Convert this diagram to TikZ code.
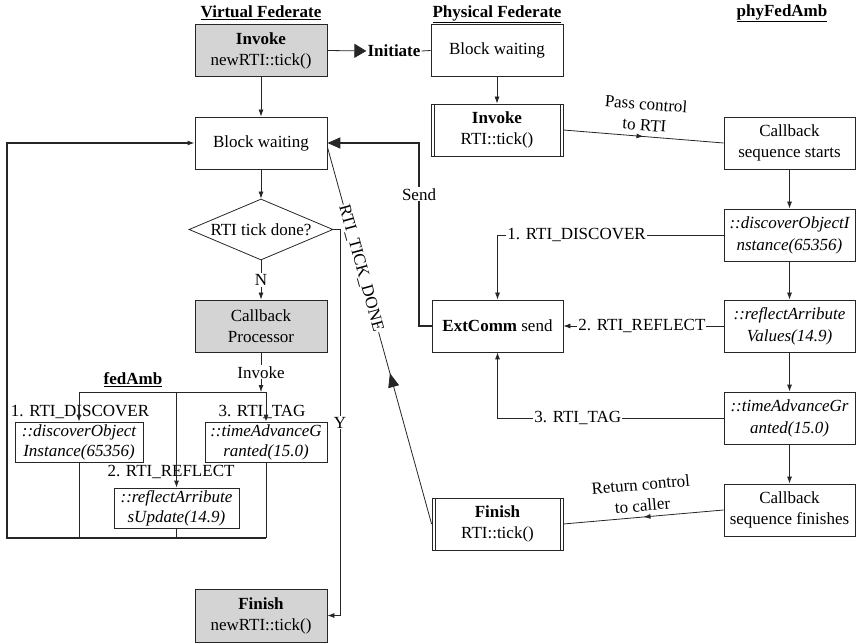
\documentclass[tikz,border=0pt]{standalone}
\usepackage{fontspec}
\setmainfont{Liberation Serif}
\usetikzlibrary{arrows.meta,shapes.geometric,decorations.markings,calc}
\begin{document}
\begin{tikzpicture}[x=1pt,y=-1pt,
  every node/.style={font=\fontsize{17}{21}\selectfont},
  box/.style={draw=black!85, line width=0.8pt, align=center, inner sep=1pt, minimum width=132pt, minimum height=52pt},
  grey/.style={box, fill=black!17},
  ibox/.style={box, minimum width=131pt, font=\fontsize{17}{22}\selectfont\itshape},
  fbox/.style={draw=black!85, line width=0.8pt, align=center, inner sep=0.5pt, minimum height=40pt, font=\fontsize{17}{20}\selectfont\itshape},
  lbl/.style={fill=white, inner sep=1pt},
  conn/.style={draw=black!85, line width=0.8pt},
  arr/.style={conn, -{Latex[length=7pt,width=5pt]}},
  loopline/.style={draw=black!85, line width=1.5pt},
  midarrow/.style={postaction={decorate}, decoration={markings, mark=at position 0.5 with {\arrow{Latex[length=7pt,width=5pt]}}}}
]
\useasboundingbox (0,0) rectangle (857,644);

% titles
\node (tv) at (261,13) {\underline{\textbf{Virtual Federate}}};
\node (tp) at (497,14) {\underline{\textbf{Physical Federate}}};
\node (tf) at (782,13) {\underline{\textbf{phyFedAmb}}};
\node (ta) at (133,380) {\underline{\textbf{fedAmb}}};

% virtual federate
\node[grey] (vinv) at (261,50.5) {\textbf{Invoke}\\newRTI::tick()};
\node[box] (vbw) at (261,143) {Block waiting};
\node[draw=black!85, line width=0.8pt, diamond, aspect=2.36, inner sep=0pt, minimum width=144pt, minimum height=61pt] (dia) at (261,229.5) {RTI tick done?};
\node[grey] (vcp) at (261,326) {Callback\\Processor};
\node[grey, minimum height=53pt] (vfin) at (261,615.5) {\textbf{Finish}\\newRTI::tick()};

% fedAmb
\node (l1) at (80,412) {1. RTI\_DISCOVER};
\node (l3) at (262,412) {3. RTI\_TAG};
\node (l2) at (171,472) {2. RTI\_REFLECT};
\node[fbox, minimum width=128pt] (fdisc) at (79,442) {::discoverObject\\Instance(65356)};
\node[fbox, minimum width=122pt] (ftag) at (266,442) {::timeAdvanceG\\ranted(15.0)};
\node[fbox, minimum width=125pt] (frefl) at (176.5,508) {::reflectArribute\\sUpdate(14.9)};

% physical federate
\node[box] (pbw) at (497,50.5) {Block waiting};
\node[box] (pinv) at (497,130) {\textbf{Invoke}\\RTI::tick()};
\node[box, minimum width=131pt] (ext) at (497.5,326) {\textbf{ExtComm} send};
\node[box, minimum width=131pt] (pfin) at (497.5,524) {\textbf{Finish}\\RTI::tick()};
\foreach \n in {pinv,pfin} {
  \draw[conn] ([xshift=3.5pt]\n.north west) -- ([xshift=3.5pt]\n.south west);
  \draw[conn] ([xshift=-3.5pt]\n.north east) -- ([xshift=-3.5pt]\n.south east);
}

% phyFedAmb
\node[box, minimum width=131pt] (cbs) at (789.5,143) {Callback\\sequence starts};
\node[ibox] (pdisc) at (789.5,235) {::discoverObjectI\\nstance(65356)};
\node[ibox] (prefl) at (789.5,326) {::reflectArribute\\Values(14.9)};
\node[ibox] (ptag) at (789.5,418) {::timeAdvanceGr\\anted(15.0)};
\node[box, minimum width=131pt] (cbf) at (789.5,510) {Callback\\sequence finishes};

% virtual connectors
\draw[arr] (vinv) -- (vbw);
\node[font=\fontsize{17}{21}\selectfont\bfseries, inner sep=1pt] (init) at (394,51) {Initiate};
\draw[conn, -{Triangle[length=12pt,width=14pt]}] (vinv.east) -- (init.west);
\draw[conn] (init.east) -- (pbw.west);
\draw[arr] (vbw) -- (dia);
\draw[arr] (dia) -- node[lbl] {N} (vcp);
\coordinate (yc) at (340,229.5);
\draw[arr] (dia.east) -- (yc) -- node[lbl] {Y} (yc |- vfin.east) -- (vfin.east);

\coordinate (inv) at (261,392);
\draw[arr] (vcp) -- node[lbl] {Invoke} (inv);
\coordinate (hl) at (79,392);
\coordinate (hr) at (266,392);
\draw[conn] (hl) -- (hr);
\draw[arr] (hl) -- (fdisc.north);
\draw[arr] (hl -| frefl.north) -- (frefl.north);
\draw[arr] (hr) -- (ftag.north);

\coordinate (bl) at (7,538);
\draw[conn] (fdisc.south) -- (fdisc.south |- bl);
\draw[conn] (frefl.south) -- (frefl.south |- bl);
\draw[conn] (ftag.south) -- (ftag.south |- bl);
\draw[loopline, -{Latex[length=7pt,width=5pt]}] (ftag.south |- bl) -- (bl) -- (bl |- vbw.west) -- (vbw.west);

% send loop
\coordinate (sc) at (419,326);
\draw[loopline, -{Triangle[length=13pt,width=11pt]}] (ext.west) -- (sc) -- node[lbl, pos=0.72] {Send} (sc |- vbw.east) -- (vbw.east);

% RTI_TICK_DONE
\coordinate (vbwr) at ($(vbw.east)+(0,4)$);
\draw[conn, postaction={decorate}, decoration={markings, mark=at position 0.4 with {\arrow{Triangle[length=14pt,width=11pt]}}}] (pfin.west) -- node[lbl, pos=0.678, sloped] {RTI\_TICK\_DONE} (vbwr);

% physical connectors
\draw[arr] (pbw) -- (pinv);
\draw[conn, midarrow] (pinv.east) -- node[sloped, above=2pt, align=center] {Pass control\\to RTI} (cbs.west);
\draw[arr] (cbs) -- (pdisc);
\draw[arr] (pdisc) -- (prefl);
\draw[arr] (prefl) -- (ptag);
\draw[arr] (ptag) -- (cbf);
\draw[arr] (pdisc.west) -- node[lbl, pos=0.65] {1. RTI\_DISCOVER} (pdisc.west -| ext.north) -- (ext.north);
\draw[arr] (prefl.west) -- node[lbl, pos=0.51] {2. RTI\_REFLECT} (ext.east);
\draw[arr] (ptag.west) -- node[lbl, pos=0.645] {3. RTI\_TAG} (ptag.west -| ext.south) -- (ext.south);
\draw[conn, midarrow] (cbf.west) -- node[sloped, above=2pt, align=center] {Return control\\to caller} (pfin.east);
\end{tikzpicture}
\end{document}
